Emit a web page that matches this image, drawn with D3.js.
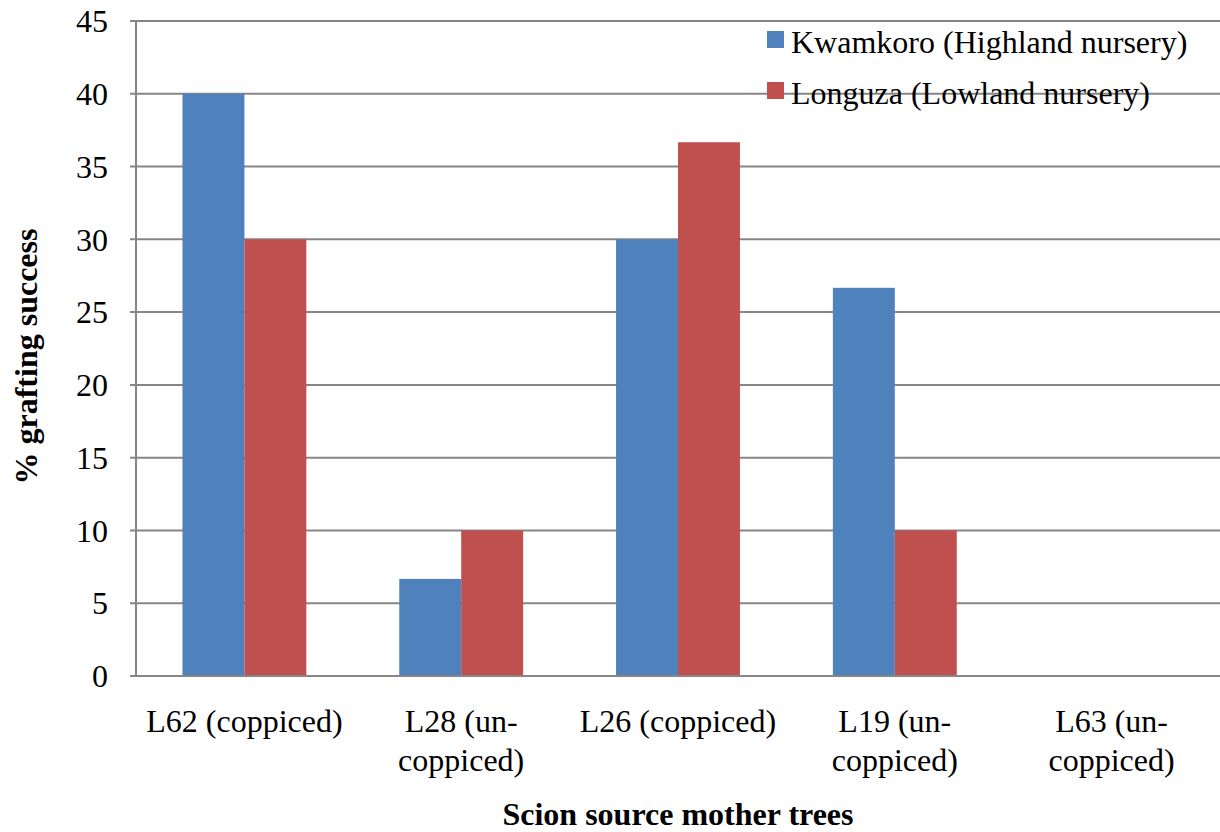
<!DOCTYPE html>
<html><head><meta charset="utf-8">
<script src="https://cdn.jsdelivr.net/npm/d3@7"></script>
<style>body{margin:0;background:#fff}svg{display:block}text{font-family:"Liberation Serif","Times New Roman",serif;fill:#000}</style>
</head><body><svg id="c" width="1220" height="832"></svg>
<script>
const categories = ["L62 (coppiced)", "L28 (un-coppiced)", "L26 (coppiced)", "L19 (un-coppiced)", "L63 (un-coppiced)"];
const labelLines = [["L62 (coppiced)"], ["L28 (un-", "coppiced)"], ["L26 (coppiced)"], ["L19 (un-", "coppiced)"], ["L63 (un-", "coppiced)"]];
const seriesNames = ["Kwamkoro (Highland nursery)", "Longuza (Lowland nursery)"];
const kwamkoro = [40, 6.67, 30, 26.67, 0];
const longuza = [30, 10, 36.67, 10, 0];
const yTicks = [0, 5, 10, 15, 20, 25, 30, 35, 40, 45];
const colors = ["#4F81BD", "#C0504D"];

const svg = d3.select("#c");
const L = 136, R = 1220, T = 21, B = 676;
const FS = 32;
const x = d3.scaleBand().domain(categories).range([L, R]).paddingInner(0).paddingOuter(0);
const y = d3.scaleLinear().domain([0, 45]).range([B, T]);
const bw = x.bandwidth() / 3.5;

// gridlines
svg.append("g").selectAll("line").data(yTicks).join("line")
  .attr("x1", L - 6).attr("x2", R).attr("y1", d => y(d)).attr("y2", d => y(d))
  .attr("stroke", "#868686").attr("stroke-width", 2);

const series = [kwamkoro, longuza];
series.forEach((vals, si) => {
  svg.append("g").selectAll("rect").data(vals).join("rect")
    .attr("x", (d, i) => x(categories[i]) + bw * 0.75 + si * bw)
    .attr("y", d => y(d)).attr("width", bw).attr("height", d => y(0) - y(d))
    .attr("fill", colors[si]);
});

// axis lines
svg.append("line").attr("x1", L).attr("x2", L).attr("y1", T).attr("y2", B)
  .attr("stroke", "#868686").attr("stroke-width", 2);
svg.append("line").attr("x1", L - 6).attr("x2", R).attr("y1", B).attr("y2", B)
  .attr("stroke", "#868686").attr("stroke-width", 2);

// y tick labels
svg.append("g").selectAll("text").data(yTicks).join("text")
  .attr("x", 108).attr("y", d => y(d)).attr("dy", "0.35em").attr("text-anchor", "end")
  .attr("font-size", FS).text(d => d);

// x labels
categories.forEach((c, i) => {
  const cx = x(c) + x.bandwidth() / 2;
  const t = svg.append("text").attr("text-anchor", "middle").attr("font-size", FS)
    .attr("x", cx).attr("y", 732);
  labelLines[i].forEach((ln, j) => t.append("tspan").attr("x", cx).attr("dy", j ? 39 : 0).text(ln));
});

// axis titles
svg.append("text").attr("transform", `translate(37,${(T + B) / 2 + 8}) rotate(-90)`)
  .attr("text-anchor", "middle").attr("font-size", FS).attr("font-weight", "bold").text("% grafting success");
svg.append("text").attr("x", (L + R) / 2).attr("y", 825).attr("text-anchor", "middle")
  .attr("font-size", FS).attr("font-weight", "bold").text("Scion source mother trees");

// legend
const lg = svg.append("g");
seriesNames.forEach((n, i) => {
  const cy = 42 + i * 51;
  lg.append("rect").attr("x", 767).attr("y", cy - 11).attr("width", 17).attr("height", 17).attr("fill", colors[i]);
  lg.append("text").attr("x", 791).attr("y", cy).attr("dy", "0.35em").attr("font-size", FS).text(n);
});
</script></body></html>
